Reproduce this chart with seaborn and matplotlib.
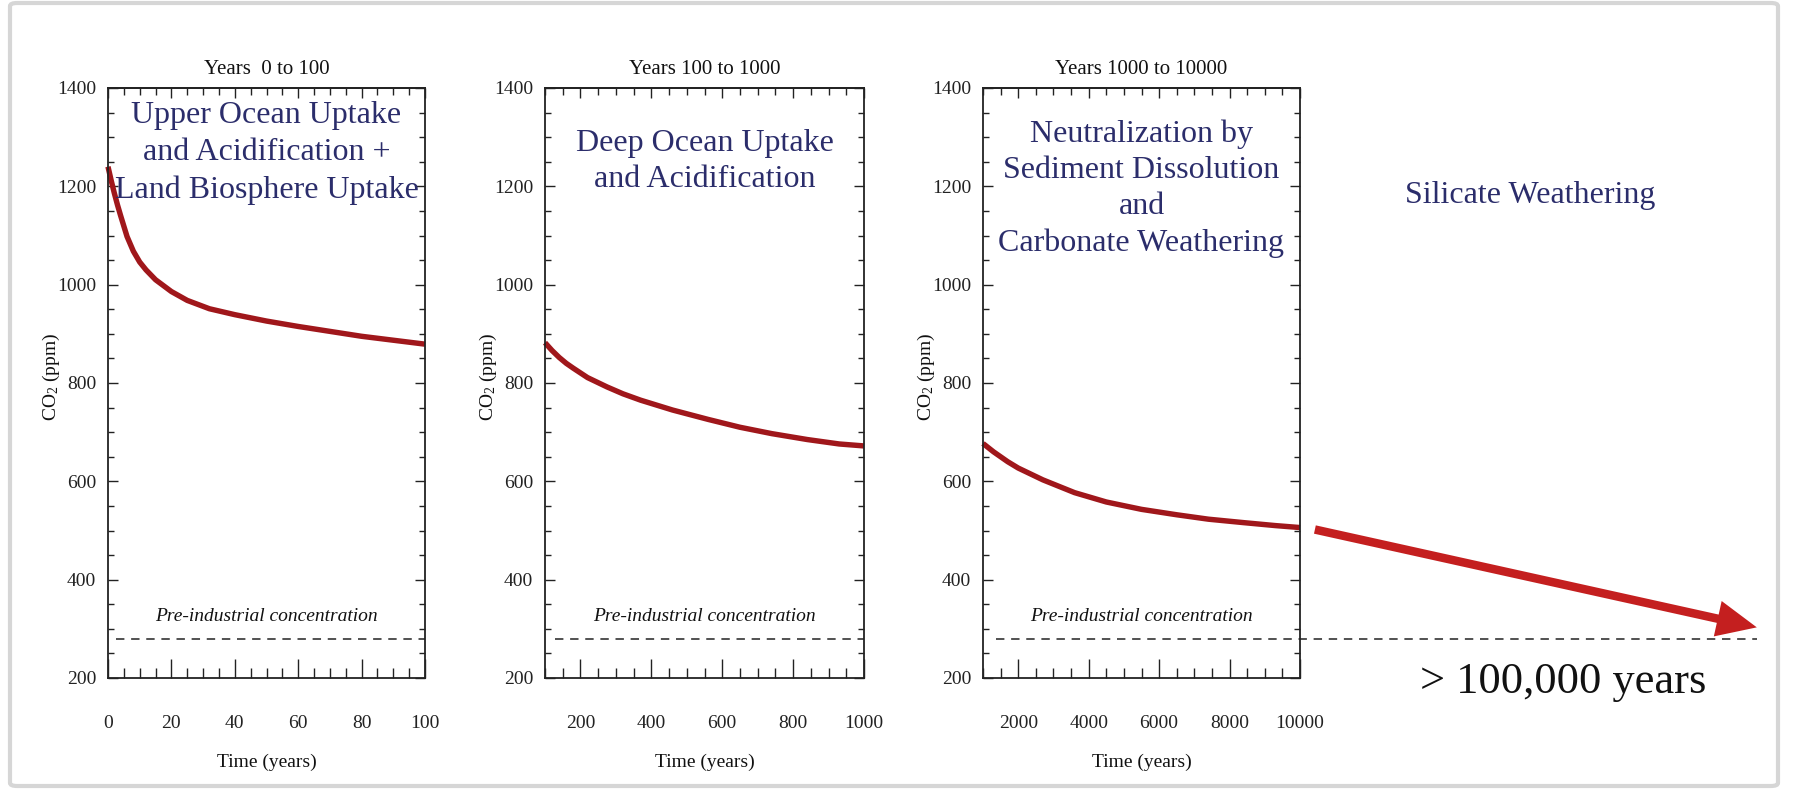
import matplotlib
matplotlib.use("Agg")
import matplotlib.pyplot as plt
import pandas as pd
import seaborn as sns
from matplotlib.ticker import MultipleLocator
from matplotlib.patches import FancyBboxPatch

# ---------------- data ----------------
p1_years = [0, 1, 2, 3, 4, 6, 8, 10, 12, 15, 20, 25, 32, 40, 50, 60, 70, 80, 90, 100]
p1_co2 = [1240, 1212, 1186, 1162, 1140, 1098, 1068, 1046, 1030, 1010, 986, 968, 951,
          939, 926, 915, 905, 895, 887, 879]

p2_years = [100, 120, 140, 160, 180, 220, 275, 320, 370, 460, 560, 650, 740, 840, 930, 1000]
p2_co2 = [882, 866, 852, 840, 830, 811, 792, 778, 765, 745, 726, 710, 697, 685, 676, 672]

p3_years = [1000, 1300, 1700, 2000, 2700, 3600, 4500, 5500, 6500, 7400, 8400, 9300, 10000]
p3_co2 = [677, 660, 640, 627, 603, 577, 558, 543, 532, 523, 516, 510, 506]

preindustrial_co2 = 280
arrow_start_co2 = 502
arrow_end_co2 = 303

panel_titles = ["Years  0 to 100", "Years 100 to 1000", "Years 1000 to 10000"]
panel_xlims = [(0, 100), (100, 1000), (1000, 10000)]
panel_major = [20, 200, 2000]
panel_minor = [5, 50, 500]
panel_texts = ["Upper Ocean Uptake\nand Acidification +\nLand Biosphere Uptake",
               "Deep Ocean Uptake\nand Acidification",
               "Neutralization by\nSediment Dissolution\nand\nCarbonate Weathering"]
panel_text_y = [1268, 1250, 1195]
panel_text_ls = [1.36, 1.3, 1.32]
right_text = "Silicate Weathering"
long_text = "> 100,000 years"
y_label = "CO$_2$ (ppm)"
x_label = "Time (years)"
pre_label = "Pre-industrial concentration"

# ---------------- style ----------------
sns.set_theme(style="white")
plt.rcParams["font.family"] = ["Liberation Serif", "DejaVu Serif"]
plt.rcParams["mathtext.fontset"] = "custom"
plt.rcParams["mathtext.rm"] = "Liberation Serif"
plt.rcParams["mathtext.it"] = "Liberation Serif:italic"

curve_color = "#a0171b"
arrow_color = "#c41f1f"
navy = "#2b2d6b"
W, H = 1801, 789

fig = plt.figure(figsize=(W / 100, H / 100), dpi=100)
fig.patch.set_facecolor("white")

axes_px = [(108, 425), (545, 864), (983, 1300)]
top_px, bot_px = 88, 678
series = [(p1_years, p1_co2), (p2_years, p2_co2), (p3_years, p3_co2)]
dash_start = [0.025, 0.03, 0.04]

axs = []
for i, ((x0, x1), (yrs, co2)) in enumerate(zip(axes_px, series)):
    ax = fig.add_axes([x0 / W, (H - bot_px) / H, (x1 - x0) / W, (bot_px - top_px) / H])
    axs.append(ax)
    df = pd.DataFrame({"Time": yrs, "CO2": co2})
    sns.lineplot(data=df, x="Time", y="CO2", ax=ax, color=curve_color,
                 linewidth=3.9, solid_capstyle="butt", clip_on=False)
    ax.set_xlim(*panel_xlims[i])
    ax.set_ylim(200, 1400)
    ax.set_facecolor("white")
    for s in ax.spines.values():
        s.set_color("#222222")
        s.set_linewidth(1.3)
    ax.xaxis.set_major_locator(MultipleLocator(panel_major[i]))
    ax.xaxis.set_minor_locator(MultipleLocator(panel_minor[i]))
    ax.yaxis.set_major_locator(MultipleLocator(200))
    ax.yaxis.set_minor_locator(MultipleLocator(50))
    ax.tick_params(axis="x", which="major", direction="in", length=14, width=1,
                   pad=27, labelsize=14, bottom=True, top=False, colors="#222222")
    ax.tick_params(axis="x", which="minor", direction="in", length=7, width=1,
                   bottom=True, top=False, colors="#222222")
    ax.tick_params(axis="y", which="major", direction="in", length=7, width=1,
                   left=True, right=True, pad=8.5, labelsize=14, colors="#222222")
    ax.tick_params(axis="y", which="minor", direction="in", length=4.5, width=1,
                   left=True, right=True, colors="#222222")
    sec = ax.secondary_xaxis("top")
    sec.xaxis.set_major_locator(MultipleLocator(panel_major[i]))
    sec.xaxis.set_minor_locator(MultipleLocator(panel_minor[i]))
    sec.tick_params(which="major", direction="in", length=7, width=1, labeltop=False,
                    colors="#222222")
    sec.tick_params(which="minor", direction="in", length=5, width=1, colors="#222222")
    sec.spines["top"].set_linewidth(1.3)

    ax.set_xlabel(x_label, fontsize=14, labelpad=15, color="#111111")
    ax.set_ylabel(y_label, fontsize=14, color="#111111")
    ax.yaxis.set_label_coords(-0.145, 0.51)
    ax.set_title(panel_titles[i], fontsize=15, pad=10, color="#111111")

    xmax = 1.0 if i < 2 else 2.441
    ax.axhline(preindustrial_co2, xmin=dash_start[i], xmax=xmax, color="#222222",
               lw=1.1, dashes=(5.5, 4.4), clip_on=False)
    ax.annotate(pre_label, xy=(0.5, 325), xycoords=("axes fraction", "data"),
                ha="center", va="center", fontsize=14, style="italic", color="#111111")
    ax.annotate(panel_texts[i], xy=(0.5, panel_text_y[i]),
                xycoords=("axes fraction", "data"), ha="center", va="center",
                fontsize=23, color=navy, linespacing=panel_text_ls[i],
                multialignment="center")

ax3 = axs[2]
ax3.annotate(right_text, xy=(1.726, 1182), xycoords=("axes fraction", "data"),
             ha="center", va="center", fontsize=23, color=navy)
ax3.annotate(long_text, xy=(2.283, 170), xycoords=("axes fraction", "data"),
             ha="right", va="baseline", fontsize=32, color="#111111",
             annotation_clip=False)
ax3.annotate("", xy=(2.441, arrow_end_co2), xycoords=("axes fraction", "data"),
             xytext=(1.047, arrow_start_co2), textcoords=("axes fraction", "data"),
             annotation_clip=False,
             arrowprops=dict(arrowstyle="simple,head_length=1.6,head_width=1.45,tail_width=0.34",
                             mutation_scale=18, color=arrow_color, shrinkA=0, shrinkB=0,
                             lw=0))

# outer frame
fig.patches.append(FancyBboxPatch((10 / W, 3 / H), (1778 - 10) / W, (786 - 3) / H,
                                  boxstyle="round,pad=0,rounding_size=0.004",
                                  transform=fig.transFigure, fill=False,
                                  ec="#d6d6d6", lw=3))

fig.savefig("out.png", dpi=100, facecolor="white")
